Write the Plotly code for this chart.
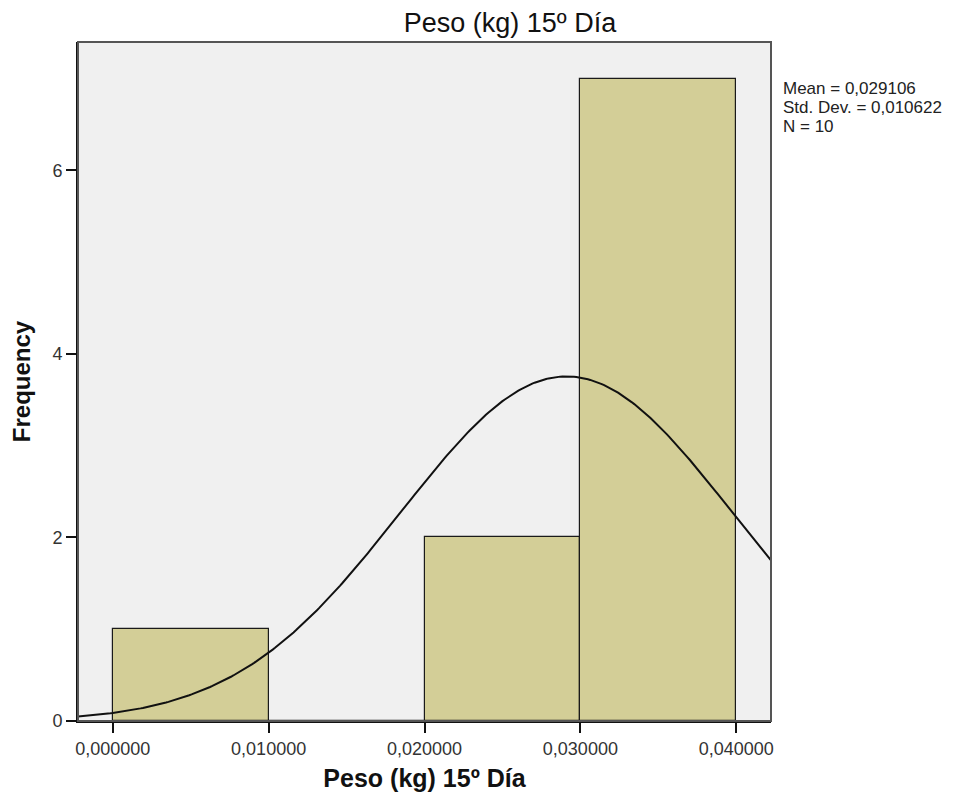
import numpy as np
import plotly.graph_objects as go

# ---- data ----
bin_edges = [0.00, 0.01, 0.02, 0.03, 0.04]
counts = [1, 0, 2, 7]
mean_val = 0.029106
std_val = 0.010622
n_val = 10
x_tick_vals = [0.0, 0.01, 0.02, 0.03, 0.04]
x_tick_text = ["0,000000", "0,010000", "0,020000", "0,030000", "0,040000"]
y_tick_vals = [0, 2, 4, 6]
title_text = "Peso (kg) 15º Día"
x_title = "Peso (kg) 15º Día"
y_title = "Frequency"
stats_lines = ["Mean = 0,029106", "Std. Dev. = 0,010622", "N = 10"]

x_range = [-0.00223, 0.04223]
y_range = [0, 7.40]

FONT = "Liberation Sans, Arial, sans-serif"

centers = [(a + b) / 2 for a, b in zip(bin_edges[:-1], bin_edges[1:])]
widths = [b - a for a, b in zip(bin_edges[:-1], bin_edges[1:])]
bw = widths[0]

W, H = 954, 800  # page body adds an 8px offset

fig = go.Figure()
fig.add_trace(go.Bar(
    x=centers, y=counts, width=widths,
    marker=dict(color="#D3CE97", line=dict(color="#1a1a1a", width=1.2)),
    hoverinfo="skip", showlegend=False,
))

# fitted normal curve from the stated mean / sd / N
xc = np.linspace(x_range[0], x_range[1], 300)
yc = n_val * bw / (std_val * np.sqrt(2 * np.pi)) * np.exp(-0.5 * ((xc - mean_val) / std_val) ** 2)
fig.add_trace(go.Scatter(
    x=xc, y=yc, mode="lines", line=dict(color="#111111", width=2),
    hoverinfo="skip", showlegend=False,
))

# frame (top/right grey)
fig.add_shape(type="rect", xref="paper", yref="paper", x0=0, y0=0, x1=1, y1=1,
              line=dict(color="#555555", width=2), fillcolor="rgba(0,0,0,0)", layer="above")

fig.update_layout(
    width=W, height=H,
    margin=dict(l=65, r=191, t=34, b=87),
    paper_bgcolor="white", plot_bgcolor="#F0F0F0",
    font=dict(family=FONT, color="#222222", size=18),
    bargap=0,
    title=dict(text=title_text, x=502 / W, xanchor="center", xref="container",
               y=1 - 15 / H, yanchor="middle", yref="container",
               font=dict(family=FONT, size=27, color="#111111")),
    xaxis=dict(range=x_range, tickvals=x_tick_vals, ticktext=x_tick_text,
               showgrid=False, zeroline=False, showline=True, linecolor="#111111", linewidth=2,
               ticks="outside", ticklen=10, tickwidth=1.5, tickcolor="#111111",
               tickfont=dict(size=18, color="#333333"),
               title=dict(text="<b>" + x_title + "</b>", standoff=12,
                          font=dict(size=25, color="#111111"))),
    yaxis=dict(range=y_range, tickvals=y_tick_vals,
               showgrid=False, zeroline=False, showline=True, linecolor="#111111", linewidth=2,
               ticks="outside", ticklen=10, tickwidth=1.5, tickcolor="#111111",
               tickfont=dict(size=18, color="#333333"),
               title=dict(text="<b>" + y_title + "</b>", standoff=16,
                          font=dict(size=24, color="#111111"))),
)

for i, line in enumerate(stats_lines):
    fig.add_annotation(text=line, xref="paper", yref="paper",
                       x=1.0, xshift=10, xanchor="left",
                       y=1.0, yshift=-(46 + i * 19), yanchor="middle",
                       showarrow=False, font=dict(family=FONT, size=17, color="#222222"))

fig.write_html("out.html")
